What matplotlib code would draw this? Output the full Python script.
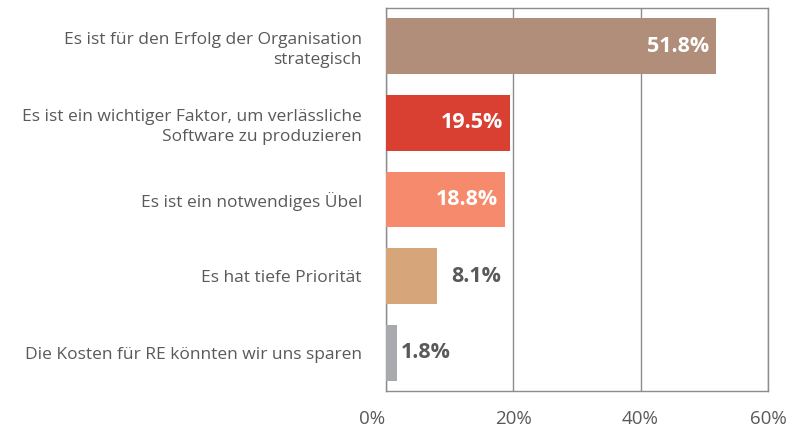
import matplotlib
matplotlib.use("Agg")
import matplotlib.pyplot as plt

categories = [
    "Es ist für den Erfolg der Organisation\nstrategisch",
    "Es ist ein wichtiger Faktor, um verlässliche\nSoftware zu produzieren",
    "Es ist ein notwendiges Übel",
    "Es hat tiefe Priorität",
    "Die Kosten für RE könnten wir uns sparen",
]
values = [51.8, 19.5, 18.8, 8.1, 1.8]
value_labels = ["51.8%", "19.5%", "18.8%", "8.1%", "1.8%"]
colors = ["#B08E79", "#DA4032", "#F58B6C", "#D6A67A", "#A9AAAE"]
xticks = [0, 20, 40, 60]
xtick_labels = ["0%", "20%", "40%", "60%"]

plt.rcParams['font.family'] = ['Open Sans', 'DejaVu Sans']
fig = plt.figure(figsize=(7.87, 4.28), dpi=100)
ax = fig.add_axes([385.5/787, 1-391/428, (768-385.5)/787, (391-8)/428])

y = list(range(len(categories)))
ax.barh(y, values, height=0.73, color=colors, zorder=3)
ax.set_ylim(len(categories)-0.5, -0.5)
ax.set_xlim(0, 60)
ax.set_xticks(xticks)
ax.set_xticklabels(xtick_labels, fontsize=13.5, color="#595959")
ax.get_xticklabels()[0].set_ha("right")
ax.set_yticks(y)
ax.set_yticklabels(categories, fontsize=12.5, color="#595959", ha="right",
                   multialignment="right", linespacing=1.3)
ax.tick_params(axis="y", length=0, pad=17)
ax.tick_params(axis="x", length=0, pad=14)
ax.grid(axis="x", color="#8C8C8C", linewidth=1, zorder=0)
for s in ax.spines.values():
    s.set_color("#8C8C8C")
    s.set_linewidth(1)

outside_offsets = {3: 10, 4: 3}
for i, (v, lab) in enumerate(zip(values, value_labels)):
    if v > 15:
        ax.annotate(lab, (v, i), xytext=(-5, 0), textcoords="offset points",
                    ha="right", va="center", fontsize=15.5, fontweight="bold",
                    color="white", zorder=4)
    else:
        ax.annotate(lab, (v, i), xytext=(outside_offsets.get(i, 6), 0), textcoords="offset points",
                    ha="left", va="center", fontsize=15.5, fontweight="bold",
                    color="#595959", zorder=4)

fig.savefig("out.png", dpi=100)
